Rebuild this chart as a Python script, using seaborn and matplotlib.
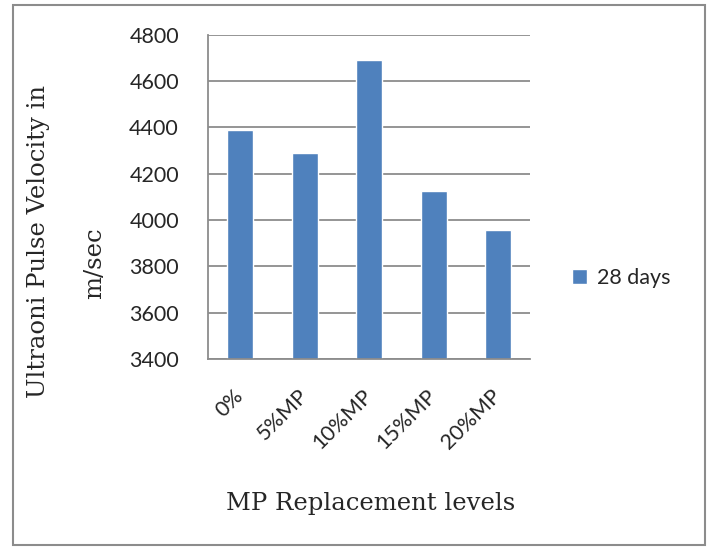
import numpy as np
import pandas as pd
import matplotlib
matplotlib.use("Agg")
import matplotlib.pyplot as plt
import seaborn as sns
from matplotlib.patches import Rectangle

# data
levels = ['0%', '5%MP', '10%MP', '15%MP', '20%MP']
upv_28 = [4390, 4290, 4690, 4125, 3955]
series_name = '28 days'
y_ticks = [3400, 3600, 3800, 4000, 4200, 4400, 4600, 4800]

df = pd.DataFrame({'level': levels, 'upv': upv_28, 'age': series_name})

sns.set_theme(style='white')
plt.rcParams['font.family'] = ['Lato', 'DejaVu Sans']

fig = plt.figure(figsize=(7.08, 5.48), dpi=100)
ax = fig.add_axes([0.294, 0.345, 0.455, 0.592])

sns.barplot(data=df, x='level', y='upv', hue='age', palette=['#4F81BD'],
            width=0.4, ax=ax, legend=True, saturation=1)

ax.set_ylim(3400, 4800)
ax.set_yticks(y_ticks)
ax.yaxis.grid(True, color='#8c8c8c', lw=1.3)
ax.set_axisbelow(True)
for s in ['top', 'right']:
    ax.spines[s].set_visible(False)
for s in ['left', 'bottom']:
    ax.spines[s].set_color('#8c8c8c')
    ax.spines[s].set_linewidth(1.3)
ax.tick_params(axis='y', length=8, width=1.3, color='#8c8c8c', labelsize=15.5, pad=13)
ax.tick_params(axis='x', length=0, labelsize=15.5, pad=24)
plt.setp(ax.get_xticklabels(), rotation=45, ha='right', va='center', rotation_mode='anchor')
ax.set_xlabel('')
ax.set_ylabel('')

# axis titles in serif
fig.text(0.054, 0.56, 'Ultraoni Pulse Velocity in', rotation=90, ha='center', va='center',
         fontsize=17.5, family='DejaVu Serif')
fig.text(0.134, 0.52, 'm/sec', rotation=90, ha='center', va='center',
         fontsize=17.5, family='DejaVu Serif')
fig.text(0.523, 0.082, 'MP Replacement levels', ha='center', va='center',
         fontsize=17.5, family='DejaVu Serif')

ax.legend(loc='center left', bbox_to_anchor=(1.07, 0.25), frameon=False,
          handlelength=0.7, handleheight=0.7, handletextpad=0.45, fontsize=15.5)

# chart frame
fig.patches.append(Rectangle((0.018, 0.006), 0.978, 0.985, transform=fig.transFigure,
                             fill=False, edgecolor='#8c8c8c', lw=1.5))

fig.savefig('out.png', dpi=100)
